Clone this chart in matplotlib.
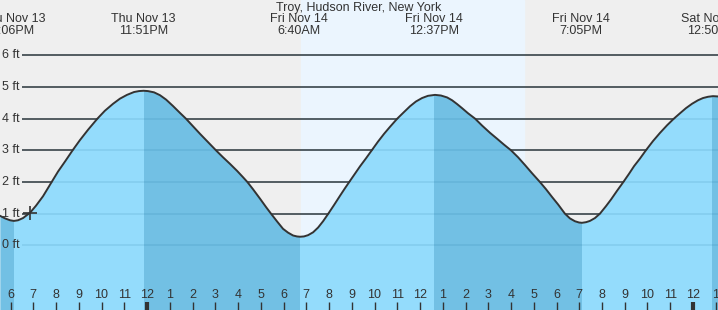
import matplotlib
matplotlib.use("Agg")
import matplotlib.pyplot as plt
import matplotlib.patches as mpatches
import numpy as np

plt.rcParams['font.family'] = ['Liberation Sans', 'DejaVu Sans']

# tide curve, hours from midnight Thu/Fri, height in ft
horas = [-6.46, -6.24, -6.02, -5.85, -5.67, -5.45, -5.14, -4.88, -4.57, -4.19,
         -3.91, -3.60, -3.27, -2.95, -2.59, -2.18, -1.85, -1.49, -1.19, -0.88,
         -0.57, -0.35, -0.15,
         0.04, 0.31, 0.57, 0.84, 1.14, 1.45, 1.71, 2.02, 2.33, 2.68,
         3.03, 3.34, 3.65, 3.96, 4.22, 4.41, 4.66, 4.97, 5.23, 5.45,
         5.71, 5.98, 6.20, 6.42, 6.59, 6.73,
         6.90, 7.08, 7.30, 7.52, 7.74, 7.97, 8.22, 8.48, 8.70, 8.89,
         9.14, 9.36, 9.63, 9.88, 10.15, 10.42, 10.68, 11.00, 11.30, 11.56,
         11.82, 12.09, 12.35, 12.66,
         12.92, 13.19, 13.41, 13.63, 13.85, 14.11, 14.42, 14.73, 15.08, 15.38,
         15.69, 16.00, 16.31, 16.62, 16.92, 17.27, 17.54, 17.80, 18.07, 18.37,
         18.59, 18.81, 18.99, 19.12,
         19.30, 19.47, 19.69, 19.91, 20.18, 20.40, 20.66, 20.94, 21.19, 21.41,
         21.67, 21.93, 22.24, 22.55, 22.86, 23.16, 23.43, 23.69, 23.96, 24.22,
         24.44, 24.66, 24.88, 25.10]
alturas = [0.93, 0.85, 0.79, 0.77, 0.79, 0.86, 1.03, 1.25, 1.55, 2.00,
           2.33, 2.65, 3.00, 3.32, 3.65, 4.00, 4.25, 4.47, 4.63, 4.75,
           4.84, 4.87, 4.88,
           4.87, 4.83, 4.74, 4.60, 4.40, 4.18, 4.00, 3.76, 3.52, 3.26,
           3.00, 2.78, 2.57, 2.35, 2.15, 2.00, 1.77, 1.47, 1.21, 1.00,
           0.76, 0.52, 0.40, 0.31, 0.28, 0.27,
           0.28, 0.32, 0.41, 0.56, 0.76, 1.00, 1.27, 1.56, 1.80, 2.00,
           2.26, 2.49, 2.75, 3.00, 3.27, 3.52, 3.74, 4.00, 4.21, 4.39,
           4.54, 4.65, 4.72, 4.75,
           4.73, 4.67, 4.58, 4.46, 4.33, 4.17, 4.00, 3.78, 3.55, 3.37,
           3.18, 3.00, 2.78, 2.53, 2.28, 2.00, 1.77, 1.53, 1.29, 1.00,
           0.85, 0.76, 0.72, 0.71,
           0.73, 0.77, 0.86, 1.00, 1.24, 1.45, 1.72, 2.00, 2.26, 2.50,
           2.74, 3.00, 3.29, 3.55, 3.79, 4.00, 4.17, 4.33, 4.47, 4.58,
           4.65, 4.69, 4.71, 4.70]

# high / low events
eventos_t = [-5.90, -0.15, 6.667, 12.617, 19.083, 24.833]
eventos_dia = ["Thu Nov 13", "Thu Nov 13", "Fri Nov 14", "Fri Nov 14", "Fri Nov 14", "Sat Nov 15"]
eventos_hora = ["6:06PM", "11:51PM", "6:40AM", "12:37PM", "7:05PM", "12:50AM"]

nascer_sol = 6.77
por_sol = 16.57
agora_t, agora_h = -5.14, 1.03

niveis = [0, 1, 2, 3, 4, 5, 6]
horas_ticks = list(range(-6, 26))
rotulos_horas = [str((h % 12) or 12) for h in horas_ticks]

XMIN, XMAX = -6.462, 25.099
YMIN, YMAX = -2.043, 7.746

fig = plt.figure(figsize=(7.18, 3.10), dpi=100)
fig.patch.set_facecolor('#efefef')
ax = fig.add_axes([0, 0, 1, 1])
ax.set_facecolor('#efefef')
ax.set_xlim(XMIN, XMAX)
ax.set_ylim(YMIN, YMAX)
for s in ax.spines.values():
    s.set_visible(False)
ax.set_xticks([])
ax.set_yticks([])

ax.axvspan(nascer_sol, por_sol, color='#ebf5fe', zorder=0)

x_grade = XMIN + 22 / 718 * (XMAX - XMIN)
ax.hlines(niveis, x_grade, XMAX, color='#333333', lw=1.1, zorder=1)

t = np.array(horas)
h = np.array(alturas)
ax.fill_between(t, h, YMIN, color='#94dcfc', lw=0, zorder=2)

# falling tide: high -> next low in darker blue
cortes = [XMIN] + eventos_t + [XMAX]
for i in range(len(cortes) - 1):
    t0, t1 = cortes[i], cortes[i + 1]
    descendo = (i % 2 == 0)
    if not descendo:
        continue
    poly = ax.fill_between(t, h, YMIN, color='#72c0e4', lw=0, zorder=3)
    ret = mpatches.Rectangle((t0, YMIN - 1), t1 - t0, 20, transform=ax.transData)
    poly.set_clip_path(ret)

ax.hlines(niveis, x_grade, XMAX, color='#1a6a9a', lw=1.1, alpha=0.15, zorder=4)
ax.plot(t, h, color='#333333', lw=1.4, zorder=5, solid_joinstyle='round')
ax.plot([agora_t], [agora_h], marker='+', ms=10, mew=1.2, color='#333333', zorder=6)

for n in niveis:
    ax.text(XMIN + 2.5 / 718 * (XMAX - XMIN), n, f"{n} ft", ha='left', va='center',
            fontsize=9, color='#333333', zorder=7)

for ht, rot in zip(horas_ticks, rotulos_horas):
    ax.text(ht, -1.57, rot, ha='center', va='center', fontsize=9, color='#333333', zorder=7)
    meia_noite = (ht % 24 == 0)
    ax.vlines(ht, YMIN, -1.80, color='#333333', lw=3 if meia_noite else 1, zorder=7)

fig.text(0.5, 1 - 7.5 / 310, "Troy, Hudson River, New York", ha='center', va='center',
         fontsize=9, color='#333333')
for et, dia, hr in zip(eventos_t, eventos_dia, eventos_hora):
    xf = (et - XMIN) / (XMAX - XMIN)
    fig.text(xf, 1 - 19.5 / 310, dia, ha='center', va='center', fontsize=9, color='#333333')
    fig.text(xf, 1 - 31.5 / 310, hr, ha='center', va='center', fontsize=9, color='#333333')

fig.savefig('out.png', dpi=100, facecolor=fig.get_facecolor())
